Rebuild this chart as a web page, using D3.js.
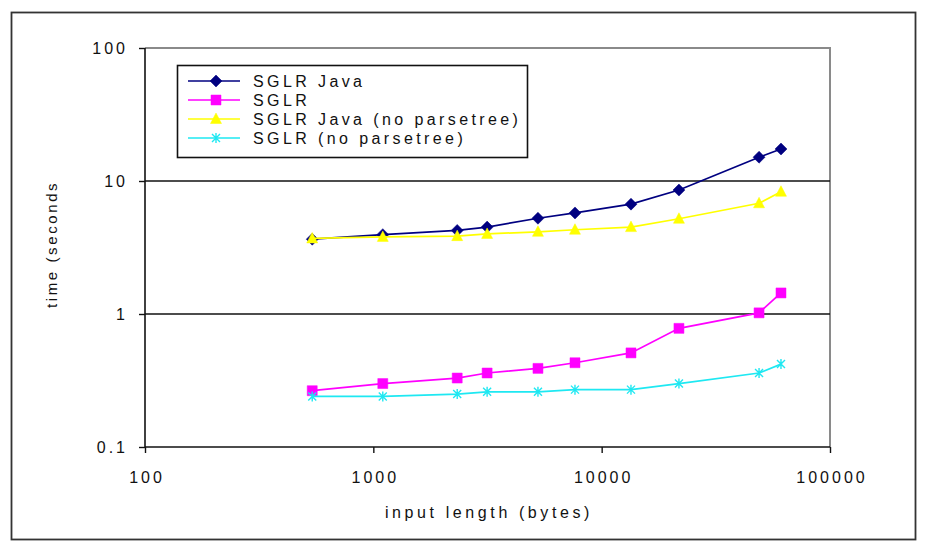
<!DOCTYPE html>
<html>
<head>
<meta charset="utf-8">
<script src="https://cdn.jsdelivr.net/npm/d3@7"></script>
<style>
  html, body { margin: 0; padding: 0; background: #fff; }
  svg text { font-family: Arial, "Liberation Sans", sans-serif; fill: #111; }
</style>
</head>
<body>
<svg id="chart" width="927" height="546"></svg>
<script>
// Input sizes (bytes) and timing series (seconds)
const inputBytes = [540, 1100, 2330, 3150, 5260, 7640, 13440, 21800, 48900, 61000];
const sglrJava = [3.65, 3.95, 4.25, 4.5, 5.25, 5.75, 6.7, 8.55, 15.1, 17.4];
const sglr = [0.265, 0.30, 0.33, 0.36, 0.39, 0.43, 0.51, 0.78, 1.02, 1.44];
const sglrJavaNoTree = [3.7, 3.8, 3.85, 4.0, 4.15, 4.3, 4.5, 5.2, 6.8, 8.3];
const sglrNoTree = [0.24, 0.24, 0.25, 0.26, 0.26, 0.27, 0.27, 0.30, 0.36, 0.42];

const seriesNames = ["SGLR Java", "SGLR", "SGLR Java (no parsetree)", "SGLR (no parsetree)"];
const xTickValues = [100, 1000, 10000, 100000];
const yTickValues = [0.1, 1, 10, 100];
const gridValues = [1, 10];

const series = [
  { name: seriesNames[0], values: sglrJava, color: "#000080", marker: "diamond" },
  { name: seriesNames[1], values: sglr, color: "#ff00ff", marker: "square" },
  { name: seriesNames[2], values: sglrJavaNoTree, color: "#ffff00", marker: "triangle" },
  { name: seriesNames[3], values: sglrNoTree, color: "#1ee8f2", marker: "star" }
];

const svg = d3.select("#chart");
const plot = { left: 145, right: 830, top: 48, bottom: 447 };
const FS = 16, LS = 3;

const x = d3.scaleLog().domain([100, 100000]).range([plot.left, plot.right]);
const y = d3.scaleLog().domain([0.1, 100]).range([plot.bottom, plot.top]);

// outer chart frame
svg.append("rect")
  .attr("x", 11.5).attr("y", 12.5).attr("width", 904).attr("height", 527)
  .attr("fill", "#fff").attr("stroke", "#333").attr("stroke-width", 1.8);

// plot area border (top/right in grey)
svg.append("path")
  .attr("d", `M${plot.left},${plot.top}H${plot.right}V${plot.bottom}`)
  .attr("fill", "none").attr("stroke", "#8a8a8a").attr("stroke-width", 2);

// major gridlines
svg.append("g").selectAll("line").data(gridValues).join("line")
  .attr("x1", plot.left).attr("x2", plot.right)
  .attr("y1", d => y(d)).attr("y2", d => y(d))
  .attr("stroke", "#111").attr("stroke-width", 1.6);

// axes
const xAxis = svg.append("g")
  .attr("transform", `translate(0,${plot.bottom})`)
  .call(d3.axisBottom(x).tickValues(xTickValues).tickFormat(d3.format("d")).tickSize(6).tickPadding(19));
const yAxis = svg.append("g")
  .attr("transform", `translate(${plot.left},0)`)
  .call(d3.axisLeft(y).tickValues(yTickValues).tickFormat(d => String(d)).tickSize(6).tickPadding(14));

[xAxis, yAxis].forEach(g => {
  g.select(".domain").attr("stroke", "#111").attr("stroke-width", 1.6);
  g.selectAll(".tick line").attr("stroke", "#111").attr("stroke-width", 1.4);
  g.selectAll(".tick text")
    .attr("font-size", FS).attr("letter-spacing", LS)
    .attr("font-family", "Arial, 'Liberation Sans', sans-serif").attr("fill", "#111");
});
xAxis.selectAll(".tick text").attr("dx", LS / 2);
yAxis.selectAll(".tick text").attr("dx", LS);
yAxis.select(".domain").attr("d", `M0,${plot.top}V${plot.bottom}`);
xAxis.select(".domain").attr("d", `M${plot.left},0H${plot.right}`);

// axis titles
svg.append("text")
  .attr("x", (plot.left + plot.right) / 2 + LS / 2).attr("y", 518)
  .attr("text-anchor", "middle").attr("font-size", FS).attr("letter-spacing", LS + 0.6)
  .text("input length (bytes)");

svg.append("clipPath").attr("id", "ytitle-clip")
  .append("rect").attr("x", 20).attr("y", 183).attr("width", 80).attr("height", 200);
svg.append("g").attr("clip-path", "url(#ytitle-clip)")
  .append("text")
  .attr("transform", "translate(57,308) rotate(-90)")
  .attr("font-size", FS - 1).attr("letter-spacing", 2.6)
  .text("time (seconds)");

// marker shapes
function markerPath(type) {
  switch (type) {
    case "diamond": return "M0,-6L6,0L0,6L-6,0Z";
    case "square": return "M-5,-5H5V5H-5Z";
    case "triangle": return "M0,-6L5.5,4.5H-5.5Z";
    default: return "M-4,-4L4,4M-4,4L4,-4M0,-5V5";
  }
}
function drawMarker(g, type, color) {
  const p = g.append("path").attr("d", markerPath(type));
  if (type === "star") p.attr("fill", "none").attr("stroke", color).attr("stroke-width", 1.4);
  else p.attr("fill", color).attr("stroke", color).attr("stroke-width", 0.5);
}

const line = d3.line().x(d => x(d[0])).y(d => y(d[1]));

series.forEach(s => {
  const pts = inputBytes.map((b, i) => [b, s.values[i]]);
  const g = svg.append("g");
  g.append("path").datum(pts)
    .attr("d", line).attr("fill", "none")
    .attr("stroke", s.color).attr("stroke-width", 1.7);
  pts.forEach(p => {
    const m = g.append("g").attr("transform", `translate(${x(p[0])},${y(p[1])})`);
    drawMarker(m, s.marker, s.color);
  });
});

// legend
const legend = svg.append("g");
legend.append("rect")
  .attr("x", 177.5).attr("y", 65.5).attr("width", 350).attr("height", 92)
  .attr("fill", "#fff").attr("stroke", "#111").attr("stroke-width", 1.6);
series.forEach((s, i) => {
  const cy = 81 + i * 19;
  const row = legend.append("g");
  row.append("line").attr("x1", 188).attr("x2", 240).attr("y1", cy).attr("y2", cy)
    .attr("stroke", s.color).attr("stroke-width", 1.7);
  drawMarker(row.append("g").attr("transform", `translate(216,${cy})`), s.marker, s.color);
  row.append("text").attr("x", 253).attr("y", cy + 6)
    .attr("font-size", FS).attr("letter-spacing", LS + 0.4).text(s.name);
});
</script>
</body>
</html>
